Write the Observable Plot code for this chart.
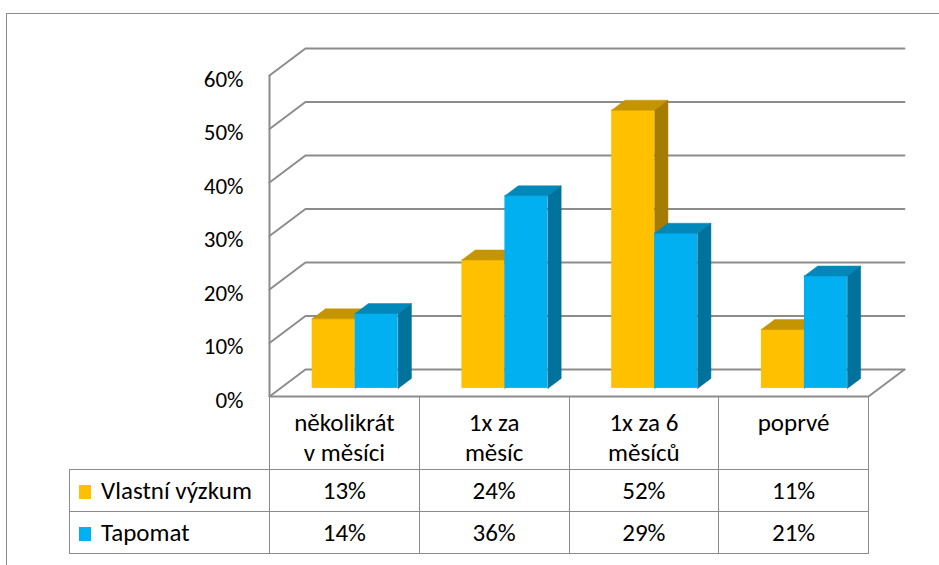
<!DOCTYPE html>
<html><head><meta charset="utf-8">
<script src="https://cdn.jsdelivr.net/npm/d3@7"></script>
<script src="https://cdn.jsdelivr.net/npm/@observablehq/plot@0.6"></script>
<style>
html,body{margin:0;padding:0;background:#fff;overflow:hidden;width:939px;height:565px;}
body{position:relative;font-family:Carlito,"Liberation Sans Narrow",Lato,sans-serif;color:#000;}
#frame{position:absolute;left:6px;top:13px;width:1000px;height:600px;border-left:1.5px solid #8c8c8c;border-top:1.5px solid #8c8c8c;}
#chart{position:absolute;left:0;top:0;}
#chart svg text{font-size:23px;fill:#000;}
#tbl{position:absolute;border-collapse:collapse;table-layout:fixed;font-size:25px;}
#tbl td{border:1.5px solid #8c8c8c;padding:0;text-align:center;vertical-align:middle;white-space:nowrap;overflow:hidden;}
#tbl tr.hdr td{border-top:none;vertical-align:top;line-height:30px;padding-top:12px;}
#tbl tr.hdr td.blank{border:none;}
#tbl td.leg{text-align:left;padding-left:9px;}
.sw{display:inline-block;width:12px;height:14px;margin-right:10px;vertical-align:0px;}
</style></head><body>
<div id="frame"></div>
<div id="chart"></div>
<script>
// ---- data ----
const categories = ["několikrát\nv měsíci", "1x za\nměsíc", "1x za 6\nměsíců", "poprvé"];
const seriesNames = ["Vlastní výzkum", "Tapomat"];
const vlastniVyzkum = [0.13, 0.24, 0.52, 0.11];
const tapomat = [0.14, 0.36, 0.29, 0.21];
const yTicks = [0, 0.1, 0.2, 0.3, 0.4, 0.5, 0.6];
const yTickLabels = ["0%", "10%", "20%", "30%", "40%", "50%", "60%"];
const tableValues = [["13%", "24%", "52%", "11%"], ["14%", "36%", "29%", "21%"]];

// ---- styles ----
const faceColors = [
  {front: "#FFC000", top: "#C49500", side: "#A67C00"},
  {front: "#00B0F0", top: "#0088BA", side: "#00729C"}
];
const gridColor = "#8c8c8c";
const fontFamily = 'Carlito, "Liberation Sans Narrow", Lato, sans-serif';

// ---- 3D geometry (in scale units) ----
const n = categories.length;
const depthX = 0.24, depthY = 0.0505;     // wall depth
const f0 = 0.30, f1 = 0.67;               // bar depth range (fraction of wall depth)
const barW = 0.287;
const gap = (1 - seriesNames.length * barW) / 2;
const seriesValues = [vlastniVyzkum, tapomat];

const bars = seriesNames.map((s, j) => categories.map((c, i) => {
  const v = seriesValues[j][i];
  const x0 = i + gap + j * barW + f0 * depthX, x1 = x0 + barW;
  const yb = f0 * depthY, yt = v + f0 * depthY;
  const dx = (f1 - f0) * depthX, dy = (f1 - f0) * depthY;
  return {s, c, v, x0, x1, yb, yt, dx, dy, id: s + i};
}));
const topPts = bars.map(arr => arr.flatMap(b => [
  {id: b.id, x: b.x0, y: b.yt}, {id: b.id, x: b.x1, y: b.yt},
  {id: b.id, x: b.x1 + b.dx, y: b.yt + b.dy}, {id: b.id, x: b.x0 + b.dx, y: b.yt + b.dy},
  {id: b.id, x: b.x0, y: b.yt}
]));
const sidePts = bars.map(arr => arr.flatMap(b => [
  {id: b.id, x: b.x1, y: b.yb}, {id: b.id, x: b.x1, y: b.yt},
  {id: b.id, x: b.x1 + b.dx, y: b.yt + b.dy}, {id: b.id, x: b.x1 + b.dx, y: b.yb + b.dy},
  {id: b.id, x: b.x1, y: b.yb}
]));
const gridPts = yTicks.flatMap(v => [
  {v, x: 0, y: v}, {v, x: depthX, y: v + depthY}, {v, x: n + depthX, y: v + depthY}
]);
const floorPts = [{x: 0, y: 0}, {x: n, y: 0}, {x: n + depthX, y: depthY}];

const barMarks = [];
seriesNames.forEach((s, j) => {
  const col = faceColors[j];
  barMarks.push(
    Plot.rect(bars[j], {x1: "x0", x2: "x1", y1: "yb", y2: "yt", fill: col.front}),
    Plot.line(topPts[j], {x: "x", y: "y", z: "id", fill: col.top, stroke: col.top, strokeWidth: 0.5}),
    Plot.line(sidePts[j], {x: "x", y: "y", z: "id", fill: col.side, stroke: col.side, strokeWidth: 0.5})
  );
});

const plot = Plot.plot({
  width: 939,
  height: 415,
  marginLeft: 269,
  marginRight: 71,
  marginTop: 75,
  marginBottom: 19,
  style: {fontFamily, fontSize: "23px", color: "#000", background: "transparent", overflow: "visible"},
  x: {domain: [0, n], axis: null},
  y: {domain: [0, 0.6], axis: null},
  marks: [
    Plot.line(gridPts, {x: "x", y: "y", z: "v", stroke: gridColor, strokeWidth: 2}),
    Plot.line(floorPts, {x: "x", y: "y", stroke: gridColor, strokeWidth: 2}),
    Plot.ruleX([0], {y1: 0, y2: 0.6, stroke: gridColor, strokeWidth: 2}),
    ...barMarks,
    Plot.axisY(yTicks, {
      tickSize: 0, tickPadding: 26, fontSize: 23, dy: 4,
      tickFormat: d => yTickLabels[yTicks.indexOf(d)]
    })
  ]
});
document.getElementById("chart").appendChild(plot);

// ---- data table (legend + values) aligned to the x scale ----
const xs = plot.scale("x");
const edges = d3.range(n + 1).map(i => xs.apply(i));
const legW = 200;
const tbl = document.createElement("table");
tbl.id = "tbl";
tbl.style.left = (edges[0] - legW) + "px";
tbl.style.top = "396px";
const cg = document.createElement("colgroup");
[legW, ...d3.range(n).map(i => edges[i + 1] - edges[i])].forEach(w => {
  const c = document.createElement("col"); c.style.width = w + "px"; cg.appendChild(c);
});
tbl.appendChild(cg);
tbl.style.width = (legW + edges[n] - edges[0]) + "px";
const hr = tbl.insertRow(); hr.className = "hdr"; hr.style.height = "73px";
const blank = hr.insertCell(); blank.className = "blank";
categories.forEach(c => {
  const td = hr.insertCell();
  c.split("\n").forEach((line, k) => {
    if (k) td.appendChild(document.createElement("br"));
    td.appendChild(document.createTextNode(line));
  });
});
seriesNames.forEach((s, j) => {
  const tr = tbl.insertRow(); tr.style.height = "42px";
  const lg = tr.insertCell(); lg.className = "leg";
  const sw = document.createElement("span"); sw.className = "sw"; sw.style.background = faceColors[j].front;
  lg.appendChild(sw); lg.appendChild(document.createTextNode(s));
  tableValues[j].forEach(t => { const td = tr.insertCell(); td.textContent = t; });
});
document.body.appendChild(tbl);
</script>
</body></html>
